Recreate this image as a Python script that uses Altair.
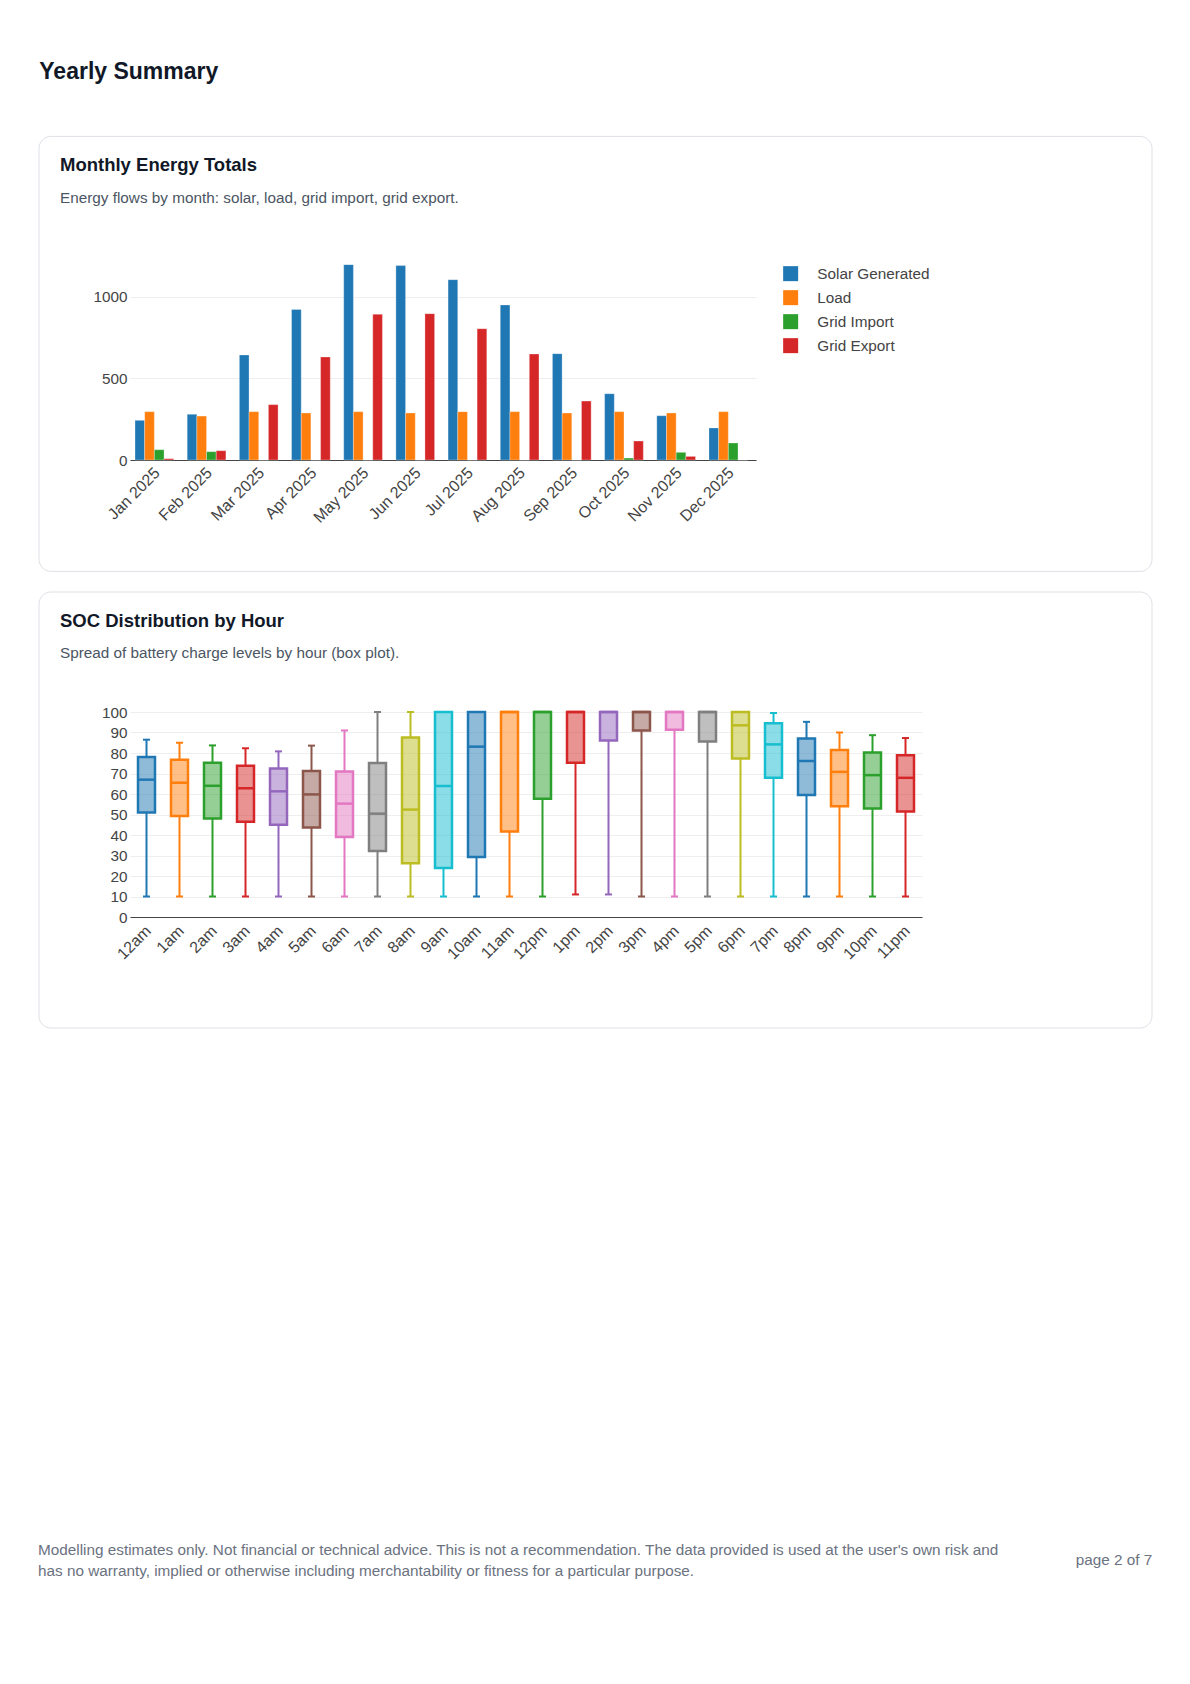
import altair as alt
import pandas as pd

FONT = "Liberation Sans"

# ---------------- data ----------------
months = ["Jan 2025", "Feb 2025", "Mar 2025", "Apr 2025", "May 2025", "Jun 2025",
          "Jul 2025", "Aug 2025", "Sep 2025", "Oct 2025", "Nov 2025", "Dec 2025"]
series = ["Solar Generated", "Load", "Grid Import", "Grid Export"]
solar = [243, 280, 643, 922, 1196, 1190, 1104, 949, 651, 406, 271, 196]
load = [296, 269, 296, 288, 296, 288, 296, 296, 288, 296, 288, 296]
grid_import = [63, 51, 0, 0, 0, 0, 0, 0, 0, 12, 47, 104]
grid_export = [8, 57, 339, 631, 892, 896, 804, 649, 361, 116, 22, 0]
series_colors = ["#1f77b4", "#ff7f0e", "#2ca02c", "#d62728"]

hours = ["12am", "1am", "2am", "3am", "4am", "5am", "6am", "7am", "8am", "9am", "10am", "11am",
         "12pm", "1pm", "2pm", "3pm", "4pm", "5pm", "6pm", "7pm", "8pm", "9pm", "10pm", "11pm"]
soc_min = [10, 10, 10, 10, 10, 10, 10, 10, 10, 10, 10, 10,
           10, 11, 11, 10, 10, 10, 10, 10, 10, 10, 10, 10]
soc_q1 = [51, 49.3, 48, 46.5, 45, 43.7, 39, 32.2, 26.2, 23.9, 29.3, 41.7,
          57.7, 75.3, 86.1, 91, 91.3, 85.6, 77.3, 67.9, 59.5, 54, 52.9, 51.5]
soc_med = [67, 65.5, 64, 62.8, 61.3, 59.8, 55.3, 50.4, 52.4, 63.9, 83.1, 100,
           100, 100, 100, 100, 100, 100, 93.5, 84.2, 76.1, 70.8, 69.2, 67.9]
soc_q3 = [78, 76.7, 75.3, 73.8, 72.4, 71.2, 71, 75.1, 87.6, 100, 100, 100,
          100, 100, 100, 100, 100, 100, 100, 94.5, 87.1, 81.5, 80.2, 78.9]
soc_max = [86.5, 85, 83.7, 82.3, 80.8, 83.6, 91, 100, 100, 100, 100, 100,
           100, 100, 100, 100, 100, 100, 100, 99.5, 95.2, 90, 88.7, 87.3]
soc_ticks = [0, 10, 20, 30, 40, 50, 60, 70, 80, 90, 100]
cat10 = ["#1f77b4", "#ff7f0e", "#2ca02c", "#d62728", "#9467bd",
         "#8c564b", "#e377c2", "#7f7f7f", "#bcbd22", "#17becf"]
hour_colors = [cat10[i % 10] for i in range(len(hours))]

page_title = "Yearly Summary"
card1_title = "Monthly Energy Totals"
card1_sub = "Energy flows by month: solar, load, grid import, grid export."
card2_title = "SOC Distribution by Hour"
card2_sub = "Spread of battery charge levels by hour (box plot)."
footer1 = ("Modelling estimates only. Not financial or technical advice. This is not a recommendation. "
           "The data provided is used at the user's own risk and")
footer2 = "has no warranty, implied or otherwise including merchantability or fitness for a particular purpose."
page_no = "page 2 of 7"

FS = 15.3  # body text size

# ---------------- helpers ----------------
def txt(s, x, y, size, color, weight="normal", align="left"):
    return alt.Chart(pd.DataFrame({"t": [s]})).mark_text(
        align=align, baseline="alphabetic", fontSize=size, font=FONT,
        fontWeight=weight, color=color
    ).encode(x=alt.value(x), y=alt.value(y), text="t:N")


def card(x1, x2, y1, y2):
    return alt.Chart(pd.DataFrame({"c": [0]})).mark_rect(
        fillOpacity=0, stroke="#dde1e6", strokeWidth=1, cornerRadius=12
    ).encode(x=alt.value(x1), x2=alt.value(x2), y=alt.value(y1), y2=alt.value(y2))


YAX = dict(labelFont=FONT, labelFontSize=FS, labelColor="#444", title=None)
XAX = dict(labelFont=FONT, labelFontSize=16, labelColor="#444", title=None)

# ---------------- panel A: monthly bars ----------------
rows = []
for i, m in enumerate(months):
    for s, vals in zip(series, [solar, load, grid_import, grid_export]):
        rows.append({"month": m, "series": s, "value": vals[i]})
bar_df = pd.DataFrame(rows)

bars = alt.Chart(bar_df).mark_bar(stroke="#ffffff", strokeWidth=0.5, strokeOpacity=0.6).encode(
    x=alt.X("month:N", sort=months,
            scale=alt.Scale(domain=months, paddingInner=0.258, paddingOuter=0.1275, align=0.376),
            axis=alt.Axis(labelAngle=-45, labelAlign="right", labelBaseline="middle",
                          ticks=False, labelPadding=10, labelOffset=3, domainColor="#444",
                          domainWidth=1, grid=False, labelOverlap=False, **XAX)),
    xOffset=alt.XOffset("series:N", sort=series,
                        scale=alt.Scale(domain=series, paddingInner=0, paddingOuter=0)),
    y=alt.Y("value:Q", scale=alt.Scale(domain=[0, 1255], nice=False),
            axis=alt.Axis(values=[0, 500, 1000], format="d", grid=True, gridColor="#eee",
                          domain=False, ticks=False, labelPadding=3, **YAX)),
    color=alt.Color("series:N", sort=series,
                    scale=alt.Scale(domain=series, range=series_colors),
                    legend=alt.Legend(title=None, orient="none", legendX=653, legendY=11,
                                      symbolType="square", symbolSize=225, symbolStrokeWidth=0,
                                      symbolOpacity=1, labelFont=FONT, labelFontSize=FS,
                                      labelColor="#444", rowPadding=8, labelOffset=19,
                                      padding=0)),
)

panelA = alt.layer(
    card(-91, 1022, -118.6, 316.4),
    txt(page_title, -90.7, -176.3, 23, "#111827", "bold"),
    txt(card1_title, -70, -84.3, 18.5, "#111827", "bold"),
    txt(card1_sub, -70, -52, FS, "#4b5563"),
    bars,
).properties(width=626, height=205)

# ---------------- panel B: SOC box plot ----------------
box_df = pd.DataFrame({"hour": hours, "smin": soc_min, "q1": soc_q1, "med": soc_med,
                       "q3": soc_q3, "smax": soc_max})
base = alt.Chart(box_df)
xenc = alt.X("hour:N", sort=hours,
             scale=alt.Scale(domain=hours, paddingInner=0.485, paddingOuter=0.2425),
             axis=alt.Axis(labelAngle=-45, labelAlign="right", labelBaseline="middle",
                           ticks=False, labelPadding=11, labelOffset=2, domainColor="#444",
                           domainWidth=1, grid=False, labelOverlap=False, **XAX))
cenc = alt.Color("hour:N", scale=alt.Scale(domain=hours, range=hour_colors), legend=None)
senc = alt.Stroke("hour:N", scale=alt.Scale(domain=hours, range=hour_colors), legend=None)
yscale = alt.Scale(domain=[0, 100], nice=False)
yaxis = alt.Axis(values=soc_ticks, grid=True, gridColor="#eee", domain=False, ticks=False,
                 labelPadding=3, labelOverlap=False, **YAX)


def yy(field):
    return alt.Y(field, scale=yscale, axis=yaxis)


lower = base.mark_rule(strokeWidth=2).encode(x=xenc, y=yy("smin:Q"), y2="q1:Q", color=cenc)
upper = base.mark_rule(strokeWidth=2).encode(x=xenc, y=yy("q3:Q"), y2="smax:Q", color=cenc)
capmin = base.mark_tick(thickness=2, size=7, opacity=1).encode(x=xenc, y=yy("smin:Q"), color=cenc)
capmax = base.mark_tick(thickness=2, size=7, opacity=1).encode(x=xenc, y=yy("smax:Q"), color=cenc)
boxes = base.mark_bar(fillOpacity=0.5, strokeWidth=2.5).encode(
    x=xenc, y=yy("q1:Q"), y2="q3:Q", color=cenc, stroke=senc)
median = base.mark_tick(thickness=2.5, size=17, opacity=1).encode(x=xenc, y=yy("med:Q"), color=cenc)

panelB = alt.layer(
    card(-91, 1022, -120, 316),
    txt(card2_title, -70, -85.4, 18.5, "#111827", "bold"),
    txt(card2_sub, -70, -53.7, FS, "#4b5563"),
    txt(footer1, -92, 843.3, FS, "#6b7280"),
    txt(footer2, -92, 864.3, FS, "#6b7280"),
    txt(page_no, 1022.3, 853.3, FS, "#6b7280", align="right"),
    lower, upper, capmin, capmax, boxes, median,
).properties(width=792, height=205)

chart = alt.vconcat(panelA, panelB, spacing=19).resolve_scale(
    color="independent", x="independent", y="independent"
).properties(
    padding={"left": 30, "top": 52, "right": 0, "bottom": 0}
).configure(font=FONT).configure_view(strokeWidth=0)

chart.save("out.html", embed_options={"renderer": "svg", "actions": False})
